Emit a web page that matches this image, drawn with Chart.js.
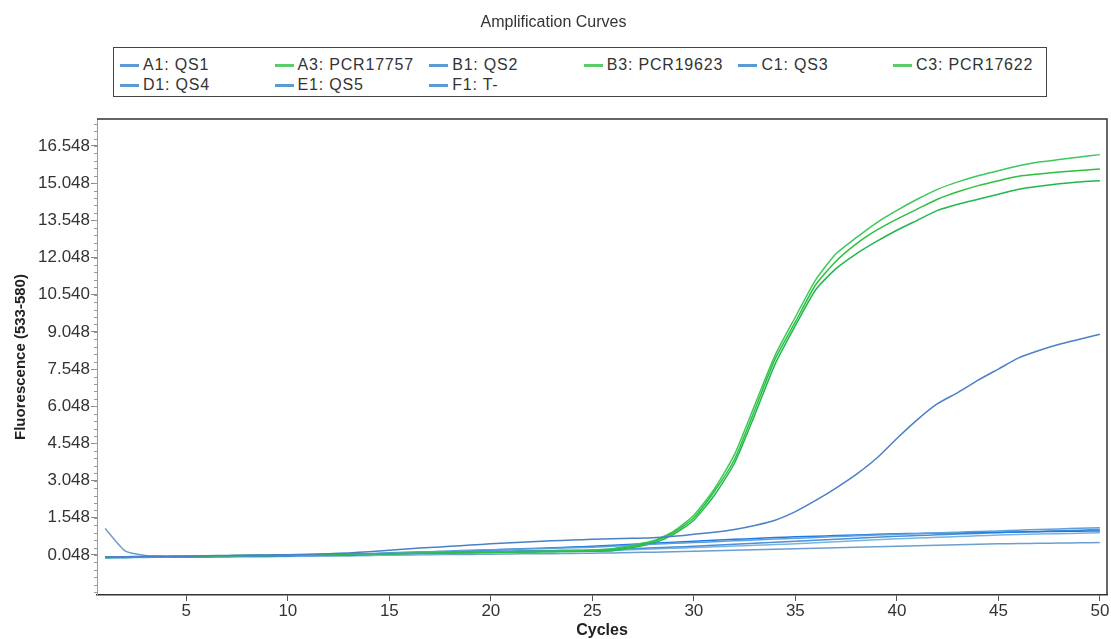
<!DOCTYPE html>
<html>
<head>
<meta charset="utf-8">
<title>Amplification Curves</title>
<script src="https://cdn.jsdelivr.net/npm/chart.js@4.4.0/dist/chart.umd.min.js"></script>
<style>
  body { margin: 0; background: #fff; font-family: "Liberation Sans", Arial, sans-serif; }
  #wrap { position: relative; width: 1111px; height: 639px; }
  #legend { position: absolute; left: 113px; top: 47px; width: 932px; height: 48px; border: 1px solid #444; background: #fff; }
  .item { position: absolute; display: flex; align-items: center; height: 20px; font-size: 16px; color: #333; letter-spacing: 0.8px; white-space: nowrap; }
  .swatch { width: 19px; height: 3px; margin-right: 4px; }
</style>
</head>
<body>
<div id="wrap">
  <canvas id="ampChart" width="1111" height="639"></canvas>
  <div id="legend"></div>
</div>
<script>
// cycles on the x axis
const cycles = [1, 2, 3, 4, 5, 6, 7, 8, 9, 10, 11, 12, 13, 14, 15, 16, 17, 18, 19, 20,
  21, 22, 23, 24, 25, 26, 27, 28, 29, 30, 31, 32, 33, 34, 35, 36, 37, 38, 39, 40,
  41, 42, 43, 44, 45, 46, 47, 48, 49, 50];

const xTickValues = [5, 10, 15, 20, 25, 30, 35, 40, 45, 50];
const yTickValues = [0.048, 1.548, 3.048, 4.548, 6.048, 7.548, 9.048, 10.548, 12.048, 13.548, 15.048, 16.548];
const yTickLabels = ['0.048', '1.548', '3.048', '4.548', '6.048', '7.548', '9.048', '10.540', '12.048', '13.548', '15.048', '16.548'];

// series names, same order as the legend
const seriesNames = ['A1: QS1', 'A3: PCR17757', 'B1: QS2', 'B3: PCR19623', 'C1: QS3', 'C3: PCR17622', 'D1: QS4', 'E1: QS5', 'F1: T-'];

// Fluorescence (533-580) values
const a1 = [-0.02, -0.02, 0.0, 0.0, 0.0, 0.02, 0.03, 0.04, 0.05, 0.06, 0.08, 0.1, 0.13, 0.18, 0.24, 0.3, 0.35, 0.4, 0.45, 0.5,
  0.54, 0.58, 0.62, 0.65, 0.68, 0.7, 0.72, 0.74, 0.8, 0.88, 0.97, 1.08, 1.24, 1.45, 1.8, 2.25, 2.75, 3.3, 3.95, 4.75,
  5.5, 6.15, 6.6, 7.1, 7.55, 8.0, 8.3, 8.55, 8.75, 8.95];
const a3 = [-0.05, -0.04, -0.03, -0.02, 0.0, 0.0, 0.02, 0.04, 0.03, 0.05, 0.06, 0.07, 0.09, 0.1, 0.1, 0.12, 0.13, 0.14, 0.15, 0.16,
  0.17, 0.18, 0.19, 0.2, 0.22, 0.28, 0.4, 0.58, 0.95, 1.55, 2.6, 3.9, 5.9, 7.95, 9.45, 10.95, 11.9, 12.6, 13.15, 13.6,
  14.0, 14.4, 14.7, 14.95, 15.15, 15.33, 15.42, 15.5, 15.56, 15.62];
const b1 = [-0.04, -0.03, -0.02, -0.01, 0.0, 0.0, 0.01, 0.02, 0.03, 0.04, 0.05, 0.06, 0.07, 0.09, 0.12, 0.15, 0.18, 0.21, 0.24, 0.26,
  0.28, 0.3, 0.32, 0.34, 0.36, 0.4, 0.44, 0.48, 0.52, 0.55, 0.58, 0.62, 0.65, 0.69, 0.72, 0.75, 0.79, 0.82, 0.85, 0.88,
  0.91, 0.94, 0.97, 1.0, 1.02, 1.05, 1.08, 1.1, 1.13, 1.15];
const b3 = [-0.04, -0.04, -0.03, -0.02, -0.01, 0.0, 0.01, 0.03, 0.03, 0.04, 0.05, 0.06, 0.08, 0.09, 0.1, 0.13, 0.14, 0.15, 0.16, 0.17,
  0.18, 0.19, 0.2, 0.22, 0.25, 0.3, 0.45, 0.62, 1.0, 1.65, 2.7, 4.1, 6.1, 8.1, 9.65, 11.15, 12.2, 12.85, 13.45, 13.95,
  14.4, 14.8, 15.1, 15.35, 15.55, 15.75, 15.9, 16.0, 16.1, 16.2];
const c1 = [-0.05, -0.05, -0.04, -0.03, -0.02, -0.02, -0.01, 0.0, 0.01, 0.02, 0.03, 0.04, 0.05, 0.07, 0.1, 0.13, 0.16, 0.19, 0.22, 0.25,
  0.28, 0.31, 0.34, 0.37, 0.4, 0.44, 0.48, 0.52, 0.56, 0.6, 0.64, 0.68, 0.71, 0.75, 0.78, 0.8, 0.83, 0.85, 0.88, 0.9,
  0.92, 0.93, 0.94, 0.96, 0.97, 0.98, 0.99, 1.0, 1.01, 1.02];
const c3 = [-0.06, -0.05, -0.04, -0.03, -0.02, -0.01, 0.0, 0.02, 0.02, 0.03, 0.04, 0.05, 0.07, 0.08, 0.09, 0.11, 0.12, 0.13, 0.14, 0.15,
  0.16, 0.17, 0.18, 0.19, 0.2, 0.22, 0.35, 0.52, 0.88, 1.45, 2.45, 3.75, 5.7, 7.75, 9.3, 10.75, 11.6, 12.2, 12.7, 13.15,
  13.55, 13.95, 14.2, 14.4, 14.6, 14.8, 14.92, 15.02, 15.1, 15.15];
const d1 = [-0.03, -0.03, -0.02, -0.02, -0.01, 0.0, 0.0, 0.01, 0.02, 0.03, 0.04, 0.05, 0.07, 0.1, 0.14, 0.16, 0.17, 0.18, 0.19, 0.2,
  0.21, 0.22, 0.23, 0.24, 0.25, 0.28, 0.31, 0.34, 0.37, 0.4, 0.44, 0.48, 0.52, 0.56, 0.6, 0.64, 0.68, 0.72, 0.76, 0.8,
  0.83, 0.86, 0.89, 0.92, 0.95, 0.98, 1.0, 1.03, 1.05, 1.08];
const e1 = [-0.06, -0.05, -0.05, -0.04, -0.04, -0.03, -0.03, -0.02, -0.02, -0.01, 0.0, 0.01, 0.02, 0.03, 0.05, 0.07, 0.09, 0.11, 0.13, 0.15,
  0.16, 0.17, 0.18, 0.19, 0.2, 0.23, 0.26, 0.29, 0.32, 0.35, 0.38, 0.41, 0.44, 0.47, 0.5, 0.54, 0.58, 0.62, 0.66, 0.7,
  0.73, 0.76, 0.79, 0.82, 0.85, 0.87, 0.89, 0.91, 0.93, 0.95];
const f1 = [1.12, 0.2, 0.03, 0.0, -0.01, -0.02, -0.02, -0.01, -0.01, 0.0, 0.0, 0.01, 0.02, 0.03, 0.04, 0.05, 0.06, 0.07, 0.07, 0.08,
  0.09, 0.1, 0.1, 0.11, 0.12, 0.13, 0.15, 0.16, 0.18, 0.2, 0.22, 0.24, 0.26, 0.28, 0.3, 0.32, 0.34, 0.36, 0.38, 0.4,
  0.42, 0.44, 0.46, 0.48, 0.5, 0.51, 0.52, 0.53, 0.54, 0.55];

const seriesValues = [a1, a3, b1, b3, c1, c3, d1, e1, f1];
const seriesColors = ['#4a80c8', '#2cc03e', '#5da0dc', '#3cc85a', '#1e78e6', '#1fb850', '#4b8fd4', '#78b4e0', '#6a9fd0'];
const legendColors = ['#5b9bd5', '#5ccc6a', '#5b9bd5', '#5ccc6a', '#5b9bd5', '#5ccc6a', '#5b9bd5', '#5b9bd5', '#5b9bd5'];

// legend as plain html, 6 columns like the original
const legend = document.getElementById('legend');
seriesNames.forEach((name, i) => {
    const item = document.createElement('div');
    item.className = 'item';
    item.style.left = (6 + (i % 6) * 154.6) + 'px';
    item.style.top = (7 + Math.floor(i / 6) * 20) + 'px';
    const sw = document.createElement('span');
    sw.className = 'swatch';
    sw.style.background = legendColors[i];
    item.appendChild(sw);
    item.appendChild(document.createTextNode(name));
    legend.appendChild(item);
});

// frame on top/right + minor ticks on the y axis
const framePlugin = {
    id: 'frame',
    afterDraw(chart) {
        const { ctx, chartArea: a } = chart;
        ctx.save();
        ctx.strokeStyle = '#333';
        ctx.lineWidth = 1.5;
        ctx.beginPath();
        ctx.moveTo(a.left, a.top);
        ctx.lineTo(a.right, a.top);
        ctx.lineTo(a.right, a.bottom);
        ctx.stroke();

        const y = chart.scales.y;
        ctx.strokeStyle = '#999';
        ctx.lineWidth = 1;
        ctx.beginPath();
        for (let v = yTickValues[0] - 1.5; v < y.max; v += 0.3) {
            if (v < y.min) continue;
            const py = Math.round(y.getPixelForValue(v)) + 0.5;
            ctx.moveTo(a.left - 3, py);
            ctx.lineTo(a.left, py);
        }
        ctx.stroke();
        ctx.restore();
    }
};

const font = '"Liberation Sans", Arial, sans-serif';

new Chart(document.getElementById('ampChart'), {
    type: 'line',
    data: {
        labels: cycles,
        datasets: seriesNames.map((name, i) => ({
            label: name,
            data: seriesValues[i],
            borderColor: seriesColors[i],
            borderWidth: 1.5,
            pointRadius: 0,
            tension: 0.2,
            fill: false
        }))
    },
    options: {
        responsive: false,
        animation: false,
        layout: { padding: { left: 0, right: 4, top: 0, bottom: 0 } },
        plugins: {
            legend: { display: false },
            tooltip: { enabled: false },
            title: {
                display: true,
                text: 'Amplification Curves',
                color: '#333',
                font: { family: font, size: 16, weight: 'normal' },
                padding: { top: 13, bottom: 86.8 }
            }
        },
        scales: {
            x: {
                type: 'linear',
                min: 0.6,
                max: 50.35,
                afterBuildTicks: s => { s.ticks = xTickValues.map(v => ({ value: v })); },
                afterFit: s => { s.height = 44; },
                ticks: { color: '#333', font: { family: font, size: 17 }, padding: 0, maxRotation: 0, autoSkip: false },
                grid: { drawOnChartArea: false, drawTicks: true, tickLength: 6, color: '#555' },
                border: { color: '#333', width: 1.5 },
                title: { display: true, text: 'Cycles', color: '#222', font: { family: font, size: 16, weight: 'bold', lineHeight: 1 }, padding: 0 }
            },
            y: {
                type: 'linear',
                min: -1.566,
                max: 17.637,
                afterBuildTicks: s => { s.ticks = yTickValues.map(v => ({ value: v })); },
                afterFit: s => { s.width = 97; },
                ticks: { color: '#333', font: { family: font, size: 17 }, padding: 1, autoSkip: false,
                    callback: (v, i) => yTickLabels[i] },
                grid: { drawOnChartArea: false, drawTicks: true, tickLength: 6, color: '#888' },
                border: { color: '#999', width: 1 },
                title: { display: true, text: 'Fluorescence (533-580)', color: '#222', font: { family: font, size: 15, weight: 'bold' }, padding: { top: 12, bottom: 0 } }
            }
        }
    },
    plugins: [framePlugin]
});
</script>
</body>
</html>
